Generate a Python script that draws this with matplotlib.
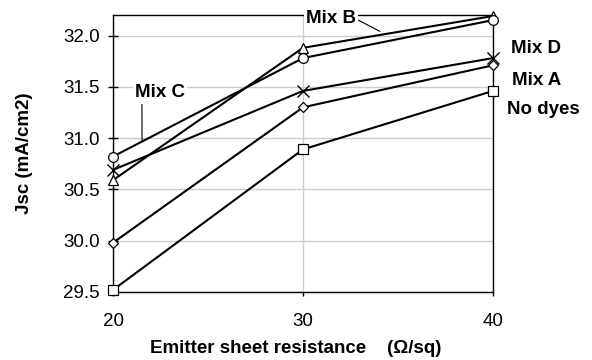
import numpy as np
import matplotlib.pyplot as plt

plt.rcParams['font.family'] = ['Liberation Sans', 'DejaVu Sans']

# Emitter sheet resistance (ohm/sq)
resistance = [20, 30, 40]

# Jsc values (mA/cm2)
mix_b = [30.59, 31.88, 32.19]
mix_c = [30.82, 31.78, 32.15]
mix_d = [30.69, 31.46, 31.78]
mix_a = [29.98, 31.30, 31.71]
no_dyes = [29.52, 30.89, 31.46]

series = [
    ("Mix B", mix_b, '^'),
    ("Mix C", mix_c, 'o'),
    ("Mix D", mix_d, 'x'),
    ("Mix A", mix_a, 'D'),
    ("No dyes", no_dyes, 's'),
]

FS = 13.5

fig = plt.figure(figsize=(5.92, 3.6), dpi=100)
ax = fig.add_axes([113 / 592, 1 - 292 / 360, 380 / 592, 277 / 360])

for name, vals, mk in series:
    if mk == 'x':
        ax.plot(resistance, vals, color='black', lw=1.5, marker=mk, ms=9,
                mew=1.0, clip_on=False, zorder=3)
    else:
        ms = 5.5 if mk == 'D' else 7
        ax.plot(resistance, vals, color='black', lw=1.5, marker=mk, ms=ms,
                mfc='white', mec='black', mew=0.9, clip_on=False, zorder=3)

ax.set_xlim(20, 40)
ax.set_ylim(29.5, 32.2)
ax.set_xticks([20, 30, 40])
yt = np.arange(29.5, 32.01, 0.5)
ax.set_yticks(yt)
ax.set_yticklabels([f"{v:.1f}" for v in yt])
ax.grid(True, color='#cccccc', lw=1.0, zorder=0)
ax.set_axisbelow(True)
for s in ax.spines.values():
    s.set_color('black')
    s.set_linewidth(1.0)
ax.tick_params(axis='y', direction='inout', length=7, width=1, labelsize=FS, pad=6)
ax.tick_params(axis='x', direction='out', length=3, width=1, labelsize=FS, pad=12)

ax.set_xlabel("Emitter sheet resistance    (\u03a9/sq)", fontsize=FS,
              fontweight='bold')
ax.xaxis.set_label_coords(0.48, -0.205)
ax.xaxis.label.set_va('center')
ax.set_ylabel("Jsc (mA/cm2)", fontsize=FS, fontweight='bold')
ax.yaxis.set_label_coords(-0.234, 0.5)
ax.yaxis.label.set_va('center')

bbox = dict(facecolor='white', edgecolor='none', pad=1.5)
# Mix B label on the top frame with a leader line
ax.annotate("Mix B", xy=(34.05, 32.04), xytext=(31.47, 32.17),
            fontsize=FS, fontweight='bold', ha='center', va='center',
            bbox=bbox, annotation_clip=False, zorder=5,
            arrowprops=dict(arrowstyle='-', color='black', lw=0.8,
                            shrinkA=0, shrinkB=0, relpos=(1.0, 0.45)))
# Mix C label with a vertical leader line
ax.annotate("Mix C", xy=(21.53, 30.96), xytext=(22.47, 31.44),
            fontsize=FS, fontweight='bold', ha='center', va='center',
            bbox=bbox, zorder=5,
            arrowprops=dict(arrowstyle='-', color='black', lw=0.8,
                            shrinkA=0, shrinkB=0, relpos=(0.14, 0.0)))

ax.text(40.95, 31.87, "Mix D", fontsize=FS, fontweight='bold', va='center')
ax.text(41.0, 31.56, "Mix A", fontsize=FS, fontweight='bold', va='center')
ax.text(40.75, 31.28, "No dyes", fontsize=FS, fontweight='bold', va='center')

fig.savefig("out.png", dpi=100)
